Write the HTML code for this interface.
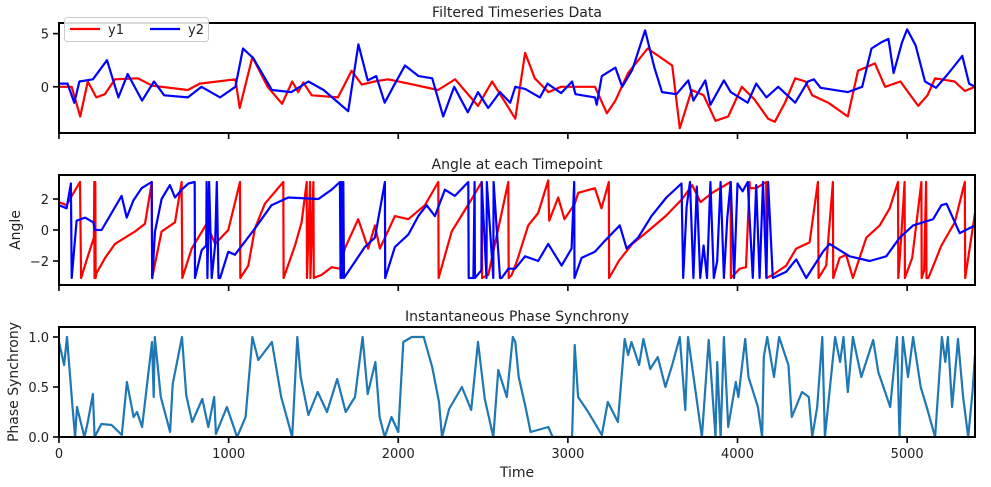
<!DOCTYPE html>
<html><head><meta charset="utf-8">
<style>
body{margin:0;background:#fff;}
svg{display:block;font-family:"DejaVu Sans","Liberation Sans",sans-serif;}
</style></head>
<body>
<svg id="chart" width="991" height="487" xmlns="http://www.w3.org/2000/svg"></svg>
<script>
// ---- data ----
const xTicks=[0,1000,2000,3000,4000,5000];
const y1T=[0,75,125,170,220,270,330,465,550,760,830,1040,1065,1140,1230,1315,1375,1410,1440,1490,1645,1725,1785,1860,1940,2060,2235,2335,2470,2553,2620,2690,2748,2805,2885,2960,3160,3230,3280,3355,3470,3615,3660,3730,3800,3870,3945,4025,4100,4180,4220,4280,4340,4400,4440,4535,4650,4710,4810,4870,4960,5065,5120,5165,5280,5340,5400];
const y1V=[0,0,-2.8,0.5,-1.0,-0.7,0.7,0.8,0.1,-0.3,0.3,0.7,-2.0,2.8,0,-1.6,0.5,-0.5,0.4,-0.8,-1.0,1.5,0.2,0.5,0.7,0.3,-0.3,0.7,-1.8,0.5,-1.2,-3.0,3.2,0.8,-0.5,0,0,-2.5,-1.3,1.3,3.6,2.0,-3.9,-0.3,-0.8,-3.2,-2.8,0,-1.2,-3.0,-3.3,-1.5,0.8,0.5,-0.8,-1.5,-2.8,1.5,2.2,0,0.5,-1.8,-0.8,0.8,0.5,-0.4,0];
const y2T=[0,50,90,120,200,283,350,405,490,560,620,760,840,950,1040,1085,1145,1255,1370,1470,1560,1705,1765,1820,1870,1920,1970,2040,2120,2200,2265,2330,2410,2470,2530,2600,2660,2690,2748,2835,2880,2960,3025,3045,3160,3170,3200,3280,3320,3380,3455,3510,3555,3640,3710,3740,3810,3840,3920,3960,4060,4110,4170,4240,4340,4415,4450,4490,4650,4735,4790,4850,4890,4920,4970,5000,5050,5105,5170,5240,5325,5365,5400];
const y2V=[0.3,0.3,-1.5,0.5,0.7,2.5,-1.0,1.2,-1.3,0.5,-0.8,-1.0,0,-1.0,0,3.6,2.7,-0.3,-0.5,0.5,-0.3,-2.3,4.0,0.6,1.0,-1.5,0,2.0,1.0,0.8,-2.8,0,-2.4,-0.5,-2.0,-0.5,-1.5,0,-0.2,-1.0,0.3,-0.6,0.5,-0.7,-1.0,-1.7,1.0,1.8,0,1.6,5.3,1.8,-0.5,-0.7,0.6,-1.3,0.6,-1.7,0.6,-0.5,-1.5,0.3,-1.0,0,-1.5,0.5,0.7,-0.1,-0.5,0,3.6,4.2,4.5,1.3,4.2,5.4,3.9,0.5,-0.1,1.2,2.9,0.3,0];
const a1T=[0,45,65,124,130,173,206,208,209,214,216,220,272,330,448,507,547,549,605,684,723,727,782,870,920,998,1067,1069,1116,1155,1214,1322,1324,1391,1430,1460,1462,1480,1482,1500,1502,1548,1607,1656,1685,1764,1823,1862,1892,1980,2059,2157,2236,2238,2315,2433,2492,2494,2531,2649,2651,2669,2700,2766,2825,2884,2890,2943,2980,3041,3061,3159,3198,3241,3243,3300,3379,3458,3576,3674,3733,3782,3851,3959,3961,4013,4050,4071,4073,4110,4169,4171,4208,4287,4346,4425,4474,4478,4523,4562,4564,4602,4640,4680,4759,4838,4897,4946,4948,4965,4985,4987,5030,5084,5086,5100,5112,5114,5125,5202,5281,5340,5342,5400];
const a1V=[1.8,1.6,2.0,3.1,-3.1,-1.6,-0.5,3.1,-3.1,3.1,-3.1,-2.8,-1.8,-0.9,-0.1,0.4,3.1,-3.1,-0.1,0.5,3.1,-3.1,-1.2,0.4,-0.9,0,3.1,-3.1,-2.3,0.1,1.7,3.1,-3.1,-1.0,0.5,3.1,-3.1,3.1,-3.1,3.1,-3.1,-2.9,-2.4,-2.5,-1.2,0.7,-1.2,0.3,-1.2,0.9,0.7,1.6,3.1,-3.1,-0.1,2.0,3.1,-3.1,-2.9,3.1,-3.1,-2.9,-2.0,0.3,1.1,3.2,0.6,2.1,0.7,1.7,2.4,2.7,1.4,3.1,-3.1,-2.0,-0.9,-0.2,0.9,2.0,2.9,1.8,2.4,3.1,-3.1,-2.5,-2.4,3.1,2.7,2.7,3.1,-3.1,-2.9,-2.3,-1.2,-0.8,3.1,-3.1,-2.3,3.1,-3.1,-1.8,-1.6,-3.1,-0.5,0.3,1.4,3.1,-3.1,-0.5,3.1,-3.1,-1.8,3.1,-3.1,-2.6,3.1,-3.1,-3.1,-1.0,0.5,3.1,-3.1,1.1];
const a2T=[0,45,70,75,104,153,202,212,251,369,399,438,487,546,550,566,605,654,684,723,763,800,802,841,868,870,875,885,900,920,930,940,950,998,1037,1155,1253,1352,1529,1607,1656,1660,1664,1668,1676,1680,1705,1803,1862,1921,1923,1980,2059,2118,2167,2216,2275,2334,2413,2415,2443,2450,2452,2490,2492,2520,2522,2560,2562,2600,2610,2649,2689,2748,2825,2884,2963,3022,3037,3039,3081,3159,3218,3306,3346,3414,3493,3581,3670,3680,3700,3720,3740,3760,3780,3800,3820,3840,3860,3880,3900,3920,3940,3960,3980,4000,4030,4060,4090,4110,4130,4150,4170,4180,4208,4287,4346,4405,4504,4543,4661,4779,4877,4956,5035,5153,5202,5232,5310,5400];
const a2V=[1.6,1.4,3.0,-3.1,0.6,0.8,0.5,0,0,2.2,0.8,1.9,2.7,3.1,-3.1,-0.1,2.0,2.9,2.1,2.6,3.0,3.1,-3.1,-1.3,-1.0,3.1,-3.1,3.1,-3.1,-1.0,3.1,-3.1,-3.1,-1.4,-1.6,0.1,1.6,2.1,2.0,2.6,3.1,-3.1,3.1,-3.1,3.1,-3.1,-2.7,-1.1,-0.5,3.1,-3.1,-1.1,-0.3,0.9,1.6,0.9,2.6,2.2,3.1,-3.1,-3.1,3.1,-3.1,-2.6,3.1,-3.1,3.1,-3.1,3.1,-3.1,-3.1,-2.5,-2.5,-1.7,-2.0,-0.9,-2.3,-1.2,3.1,-3.1,-1.8,-1.4,-0.7,0.3,-1.2,-0.5,0.9,2.1,3.0,-3.1,1.5,3.1,-3.1,2.8,-3.1,-1.0,-3.1,3.1,-3.1,-2.0,3.1,-3.1,0.8,3.1,-3.1,3.0,2.5,3.1,-3.1,2.9,-3.1,3.1,-3.1,3.1,-3.1,-2.7,-1.9,-3.1,-1.4,-0.9,-1.7,-2.0,-1.7,-0.5,0.3,0.7,1.6,1.7,-0.2,0.3,1.6];
const psT=[0,30,47,77,95,106,150,170,200,210,250,310,370,400,440,460,490,548,558,565,600,655,670,725,750,785,845,880,915,925,990,1050,1100,1140,1175,1255,1310,1375,1405,1425,1470,1525,1580,1640,1690,1745,1790,1820,1865,1890,1920,1960,2000,2030,2080,2150,2200,2240,2258,2300,2375,2430,2470,2510,2560,2590,2640,2675,2690,2710,2750,2780,2885,2910,3025,3040,3060,3120,3200,3235,3295,3335,3355,3375,3420,3445,3485,3530,3575,3615,3660,3692,3708,3790,3830,3870,3880,3900,3920,3945,3990,4005,4045,4065,4120,4145,4155,4175,4215,4245,4300,4320,4380,4420,4440,4470,4500,4515,4575,4605,4625,4650,4680,4730,4800,4830,4870,4900,4940,4955,4975,5005,5035,5080,5115,5165,5205,5225,5240,5265,5300,5330,5360,5385,5400];
const psV=[0.95,0.72,1.0,0.35,0,0.3,0,0.15,0.43,0,0.13,0.12,0.02,0.55,0.2,0.25,0.1,0.95,0.4,1.0,0.4,0.05,0.53,1.0,0.42,0.15,0.38,0.1,0.4,0.03,0.3,0,0.2,1.0,0.77,0.95,0.4,0,1.0,0.6,0.22,0.45,0.25,0.58,0.25,0.4,1.0,0.43,0.75,0.2,0,0.2,0.05,0.95,1.0,1.0,0.7,0.35,0,0.28,0.5,0.27,0.95,0.38,0,0.67,0.4,1.0,0.95,0.6,0.3,0.05,0.1,0,0,0.92,0.4,0.25,0.02,0.35,0.15,0.98,0.82,0.95,0.72,0.98,0.68,0.8,0.5,0.72,1.0,0.27,1.0,0,0.97,0,0.75,0,1.0,0.1,0.55,0.4,0.98,0.6,0.3,0,0.8,1.0,0.6,1.0,0.72,0.2,0.45,0.4,0,0.3,1.0,0,1.0,0.75,1.0,0.45,1.0,0.6,0.97,0.65,0.45,0.3,1.0,0,1.0,0.6,1.0,0.5,0.3,0,1.0,0.75,1.0,0.3,0.98,0.4,0,0.45,0.82];

// ---- layout ----
const svg=document.getElementById('chart');
const NS='http://www.w3.org/2000/svg';
const X0=59,X1=975,XMAX=5400;
const xs=t=>X0+(t/XMAX)*(X1-X0);
function mk(tag,attrs,parent){const e=document.createElementNS(NS,tag);for(const k in attrs)e.setAttribute(k,attrs[k]);(parent||svg).appendChild(e);return e;}
function txt(x,y,s,anchor,size,parent){const e=mk('text',{x:x,y:y,'text-anchor':anchor||'middle','font-size':size||14,fill:'#222'},parent);e.textContent=s;return e;}

const panels=[
 {name:'filtered-panel',top:23,bot:133,lo:-4.35,hi:6.0,yt:[5,0],yl:['5','0'],title:'Filtered Timeseries Data'},
 {name:'angle-panel',top:175,bot:285,lo:-3.55,hi:3.55,yt:[2,0,-2],yl:['2','0','\u22122'],title:'Angle at each Timepoint',ylab:'Angle'},
 {name:'synchrony-panel',top:327,bot:437,lo:0,hi:1.1,yt:[0,0.5,1.0],yl:['0.0','0.5','1.0'],title:'Instantaneous Phase Synchrony',ylab:'Phase Synchrony'}
];
panels.forEach((p,i)=>{
  const g=mk('g',{});
  
  
  p.g=g;
  p.ys=v=>p.bot-(v-p.lo)/(p.hi-p.lo)*(p.bot-p.top);
  const cp=mk('clipPath',{id:'clip'+i},g);
  mk('rect',{x:X0,y:p.top,width:X1-X0,height:p.bot-p.top},cp);
  const t=txt((X0+X1)/2,p.top-6,p.title,'middle',14,g);
  
  
});
function line(p,T,V,color,name){
  let d='';T.forEach((t,k)=>{d+=(k?'L':'M')+xs(t).toFixed(1)+','+p.ys(V[k]).toFixed(1);});
  const e=mk('path',{d:d,fill:'none',stroke:color,'stroke-width':2.2,'stroke-linejoin':'round','clip-path':'url(#clip'+panels.indexOf(p)+')'},p.g);
  
  
}
line(panels[0],y1T,y1V,'#ff0000','y1-line');
line(panels[0],y2T,y2V,'#0000ff','y2-line');
line(panels[1],a1T,a1V,'#ff0000','y1-angle-line');
line(panels[1],a2T,a2V,'#0000ff','y2-angle-line');
line(panels[2],psT,psV,'#1f77b4','phase-synchrony-line');

panels.forEach((p,i)=>{
  const g=p.g;
  const fr=mk('rect',{x:X0,y:p.top,width:X1-X0,height:p.bot-p.top,fill:'none',stroke:'#000','stroke-width':2},g);
  
  
  p.yt.forEach((v,k)=>{
    const y=p.ys(v);
    mk('line',{x1:X0-6,x2:X0,y1:y,y2:y,stroke:'#000','stroke-width':1.6},g);
    const l=txt(X0-10,y+5,p.yl[k],'end',13,g);
    
    
  });
  xTicks.forEach(t=>{
    const x=xs(t);
    mk('line',{x1:x,x2:x,y1:p.bot,y2:p.bot+6,stroke:'#000','stroke-width':1.6},g);
    if(i===2){
      const l=txt(x,p.bot+21,String(t),'middle',13,g);
      
      
    }
  });
  if(p.ylab){
    const cy=(p.top+p.bot)/2;
    const l=mk('text',{x:0,y:0,'text-anchor':'middle','font-size':14,fill:'#222',transform:'translate('+(i===1?20:18)+','+cy+') rotate(-90)'},g);
    l.textContent=p.ylab;
    
    
  }
});
const xl=txt((X0+X1)/2,477,'Time','middle',14);



// legend
const lg=mk('g',{});


mk('rect',{x:64.5,y:17.5,width:144,height:24,rx:3,fill:'#fff','fill-opacity':0.85,stroke:'#ccc'},lg);
const e1=mk('g',{},lg);


mk('line',{x1:70,x2:100,y1:29,y2:29,stroke:'#ff0000','stroke-width':2.2},e1);
txt(108,34,'y1','start',13,e1);
const e2=mk('g',{},lg);


mk('line',{x1:150,x2:180,y1:29,y2:29,stroke:'#0000ff','stroke-width':2.2},e2);
txt(188,34,'y2','start',13,e2);
</script>
</body></html>
